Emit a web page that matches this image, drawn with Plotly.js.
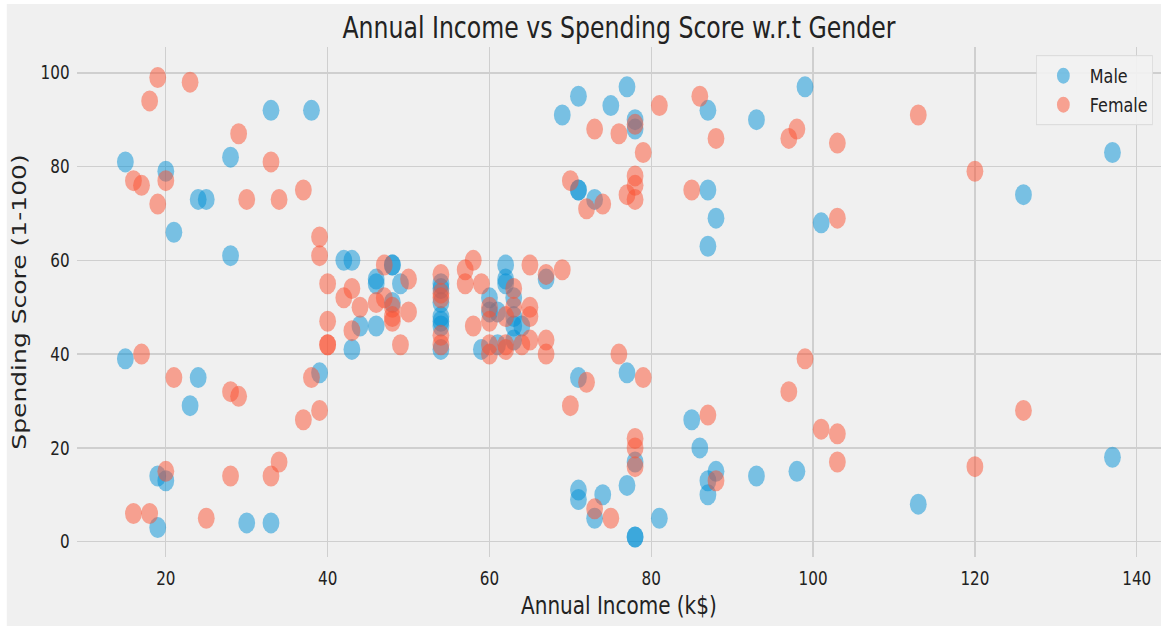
<!DOCTYPE html>
<html>
<head>
<meta charset="utf-8">
<script src="https://cdn.plot.ly/plotly-3.0.1.min.js"></script>
<style>
  html, body { margin: 0; padding: 0; background: #ffffff; overflow: hidden; }
  #chart { width: 1451px; height: 626px; transform: scaleX(0.80014); transform-origin: 0 0; }
</style>
</head>
<body>
<div id="chart"></div>
<script>
// Mall customers: Annual Income (k$) vs Spending Score (1-100), split by gender
const maleIncome = [15,15,19,19,20,20,21,23,24,24,25,28,28,30,33,33,38,39,42,43,43,44,46,46,46,48,48,48,49,54,54,54,54,54,54,54,59,60,60,61,61,62,62,62,63,63,63,63,64,67,69,71,71,71,71,71,71,73,73,74,75,77,77,77,78,78,78,78,78,81,85,86,87,87,87,87,87,88,88,93,93,98,99,101,113,126,137,137];
const maleScore  = [39,81,3,14,13,79,66,29,35,73,73,82,61,4,4,92,92,36,60,60,41,46,46,56,55,51,59,59,55,47,54,48,51,55,41,46,41,49,52,42,49,59,55,56,46,43,48,52,46,56,91,35,95,11,75,9,75,5,73,10,93,12,97,36,90,17,88,1,1,5,26,20,63,13,75,10,92,15,69,14,90,15,97,68,8,74,18,83];

const femaleIncome = [16,16,17,17,18,18,19,19,20,20,21,23,25,28,28,29,29,30,33,33,34,34,37,37,38,39,39,39,40,40,40,40,42,43,43,44,46,47,47,48,48,48,49,50,50,54,54,54,54,54,57,57,58,58,59,60,60,60,60,62,62,62,63,63,64,65,65,65,65,67,67,67,69,70,70,72,72,73,73,74,75,76,76,77,78,78,78,78,78,78,78,79,79,81,85,86,87,88,88,97,97,98,99,101,103,103,103,103,113,120,120,126];
const femaleScore  = [6,77,40,76,6,94,72,99,15,77,35,98,5,14,32,31,87,73,14,81,17,73,26,75,35,61,28,65,55,47,42,42,52,54,45,50,51,52,59,50,48,47,42,49,56,53,52,42,44,57,58,55,60,46,55,40,42,47,50,41,48,42,50,54,42,48,50,43,59,43,57,40,58,29,77,34,71,88,7,72,5,40,87,74,22,20,76,16,89,78,73,35,83,93,75,95,27,13,86,32,86,88,39,24,17,85,23,69,91,16,79,28];

const xTicks = [20, 40, 60, 80, 100, 120, 140];
const yTicks = [0, 20, 40, 60, 80, 100];

const FONT = "DejaVu Sans, Noto Sans, sans-serif";
const TXT = "#222222";

const traces = [
  {
    type: "scatter", mode: "markers", name: "Male",
    x: maleIncome, y: maleScore,
    marker: { size: 21, color: "rgba(0,143,213,0.5)", line: { width: 0 } },
    hoverinfo: "x+y+name"
  },
  {
    type: "scatter", mode: "markers", name: "Female",
    x: femaleIncome, y: femaleScore,
    marker: { size: 21, color: "rgba(252,79,48,0.5)", line: { width: 0 } },
    hoverinfo: "x+y+name"
  }
];

const layout = {
  width: 1451, height: 626,
  margin: { l: 96, r: 0, t: 47, b: 69, pad: 0 },
  paper_bgcolor: "#ffffff",
  plot_bgcolor: "#f0f0f0",
  font: { family: FONT, color: TXT, size: 19 },
  title: {
    text: "Annual Income vs Spending Score w.r.t Gender",
    font: { family: FONT, size: 29.5, color: TXT },
    xref: "paper", x: 0.5, xanchor: "center",
    yref: "container", y: 0.955, yanchor: "middle"
  },
  xaxis: {
    range: [9.0, 143.0],
    tickvals: xTicks, ticktext: xTicks.map(String),
    showgrid: true, gridcolor: "#cfcfcf", gridwidth: 1.6,
    zeroline: false, showline: false, ticks: "",
    ticklabelstandoff: 8,
    tickfont: { family: FONT, size: 19, color: TXT },
    automargin: false,
    title: { text: "Annual Income (k$)", font: { family: FONT, size: 25, color: TXT }, standoff: 8 }
  },
  yaxis: {
    range: [-3.27, 105.5],
    tickvals: yTicks, ticktext: yTicks.map(String),
    showgrid: true, gridcolor: "#cfcfcf", gridwidth: 1.6,
    zeroline: false, showline: false, ticks: "",
    ticklabelstandoff: 8,
    tickfont: { family: FONT, size: 19, color: TXT },
    automargin: false,
    title: { text: "Spending Score (1-100)", font: { family: FONT, size: 25, color: TXT }, standoff: 10 }
  },
  showlegend: true,
  legend: {
    x: 0.9926, xanchor: "right", y: 0.984, yanchor: "top",
    bgcolor: "rgba(242,242,242,0.9)", bordercolor: "#dadada", borderwidth: 1,
    font: { family: FONT, size: 20, color: TXT },
    itemwidth: 56, itemsizing: "trace"
  },
  shapes: [
    { type: "rect", xref: "paper", yref: "paper", layer: "below",
      x0: -0.0646, x1: 1.05, y0: -0.2, y1: 1.0843,
      fillcolor: "#f0f0f0", line: { width: 0 } }
  ]
};

Plotly.newPlot("chart", traces, layout, { displayModeBar: false, responsive: false, staticPlot: true });
</script>
</body>
</html>
